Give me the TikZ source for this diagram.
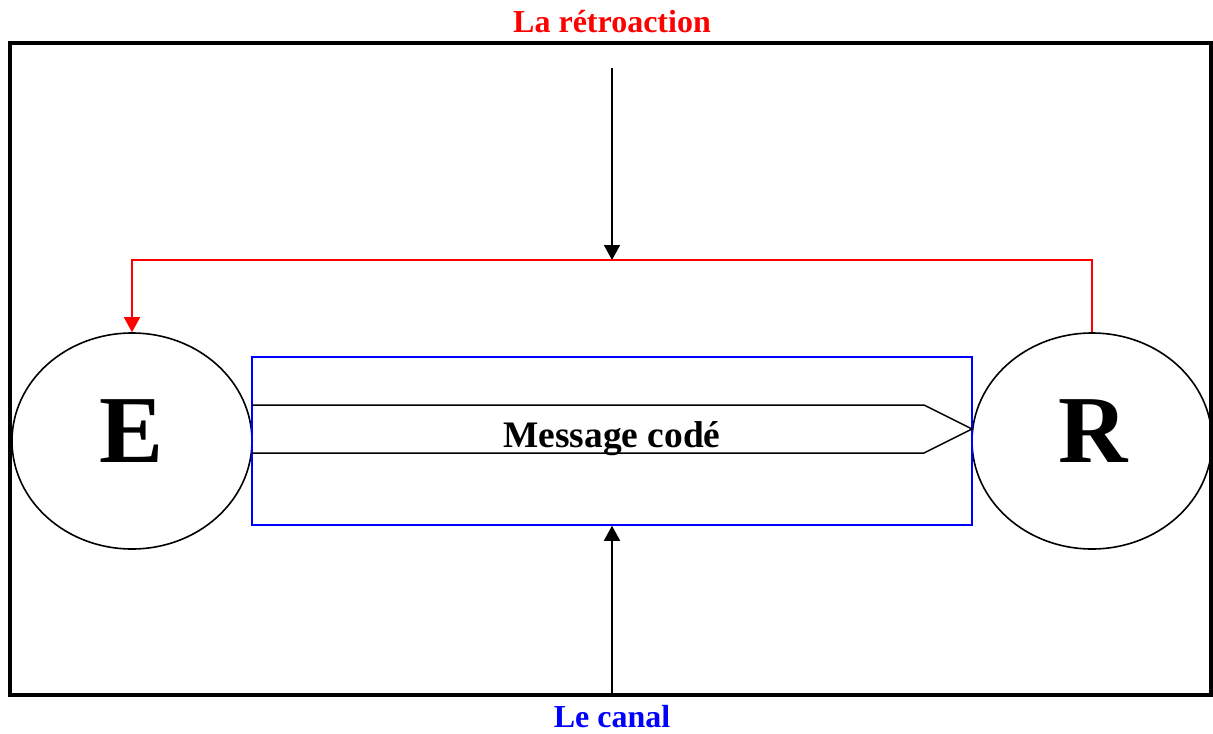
\documentclass[tikz,border=0pt]{standalone}
\usepackage{fontspec}
\setmainfont{Liberation Serif}
\usetikzlibrary{arrows.meta,shapes.geometric}
\tikzset{
  fleche/.style={-{Triangle[width=8pt,length=7.5pt]}, line width=0.75pt},
  pole/.style={draw, ellipse, line width=0.8pt, minimum width=120pt, minimum height=108pt, inner sep=0pt},
  lettre/.style={anchor=base, inner sep=0pt, font=\fontsize{48}{52}\selectfont\bfseries},
  titre/.style={font=\fontsize{16}{18}\selectfont\bfseries}
}
\begin{document}
\begin{tikzpicture}[x=0.5pt, y=-0.5pt]
\useasboundingbox (0,0) rectangle (1213,733);
% Cadre
\draw[line width=2pt] (10,43) rectangle (1211,695);
\node[titre, red] (retro) at (612,22) {La rétroaction};
\node[titre, blue] (canaltxt) at (612,717) {Le canal};

% Emetteur et récepteur
\node[pole] (emetteur) at (132,441) {};
\node[pole] (recepteur) at (1092,441) {};
\node[lettre] (lettreE) at (132,462) {E};
\node[lettre] (lettreR) at (1093,462) {R};

% Canal
\node[draw=blue, line width=0.75pt, minimum width=360pt, minimum height=84pt, inner sep=0pt] (canal) at (612,441) {};
\draw[line width=0.75pt] (252,405) -- (924,405) -- (972,429) -- (924,453) -- (252,453);
\node[anchor=base, font=\fontsize{18.7}{20}\selectfont\bfseries] (message) at (612,447) {Message codé};

% Rétroaction
\coordinate (retour) at (612,260);
\coordinate (haut) at (612,68);
\draw[fleche] (haut) -- (retour);
\draw[fleche, red] (recepteur.north) |- (retour) -| (emetteur.north);

% Arrivée du canal
\coordinate (bas) at (612,695);
\draw[fleche] (bas) -- (canal.south);
\end{tikzpicture}
\end{document}
